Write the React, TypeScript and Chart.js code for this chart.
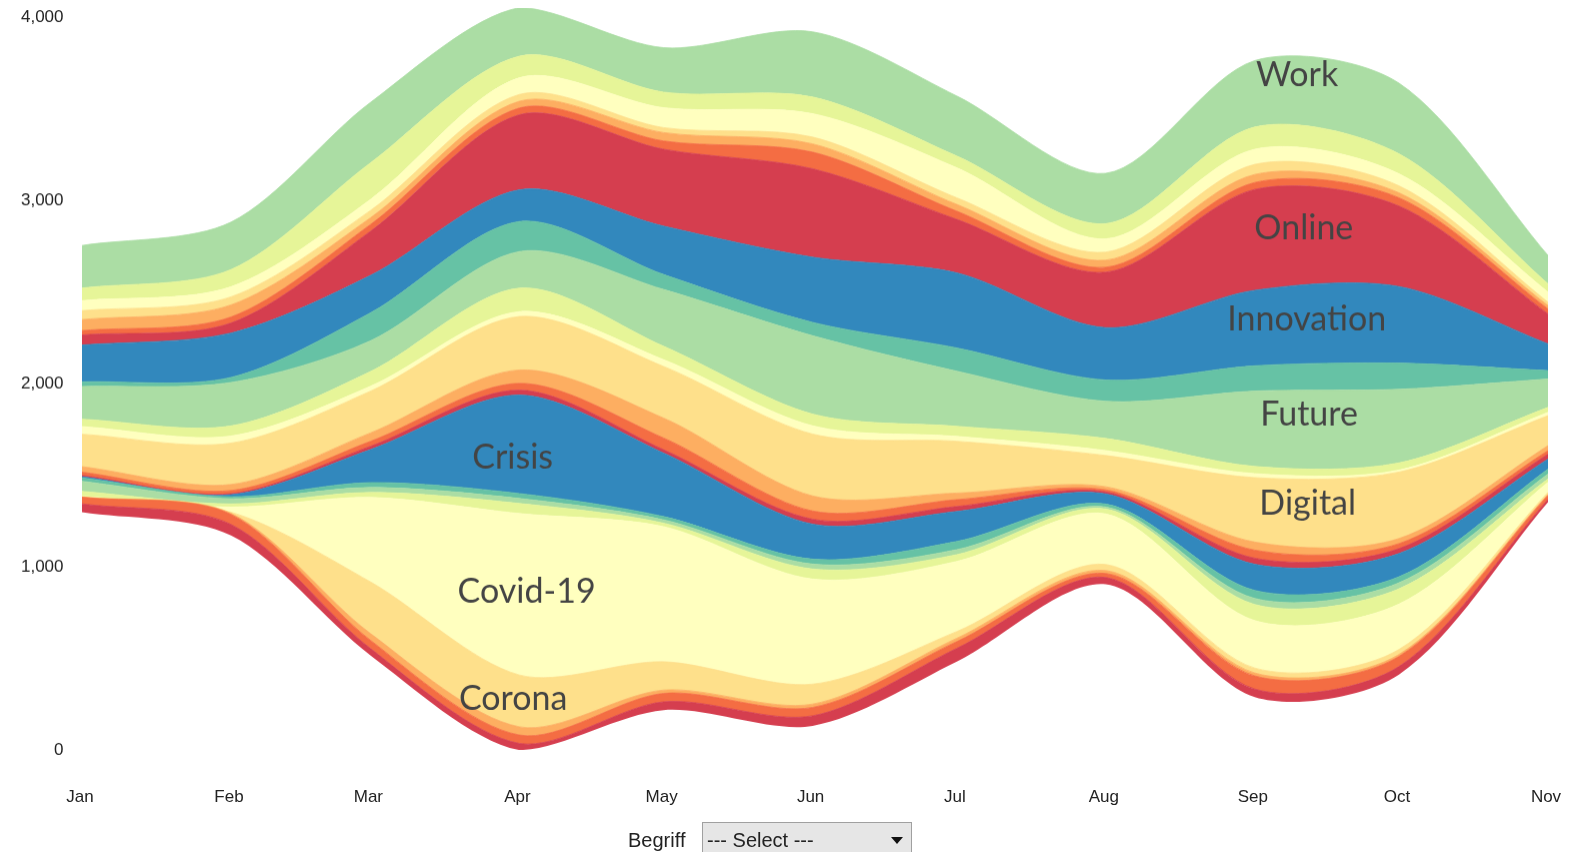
import React, { useEffect, useRef } from 'react';
import { Chart, registerables } from 'chart.js';

Chart.register(...registerables);

// ---- categories / ticks ----
const months = ['Jan', 'Feb', 'Mar', 'Apr', 'May', 'Jun', 'Jul', 'Aug', 'Sep', 'Oct', 'Nov'];
const yTickValues = [0, 1000, 2000, 3000, 4000];
// day offset of each month start (2020) from Jan 1
const monthDays = months.map((_, m) => (Date.UTC(2020, m, 1) - Date.UTC(2020, 0, 1)) / 86400000);

// ---- series (bottom to top), Jan..Nov ----
const term01 = [46, 61, 37, 36, 45, 55, 73, 38, 44, 44, 16];
const term02 = [36, 55, 45, 46, 46, 46, 37, 22, 72, 55, 22];
const term03 = [2, 6, 37, 45, 18, 18, 18, 16, 16, 11, 5];
const corona = [0, 6, 282, 283, 155, 109, 37, 33, 27, 27, 11];
const covid19 = [3, 28, 461, 882, 738, 574, 383, 276, 259, 248, 55];
const term06 = [27, 17, 27, 55, 19, 55, 37, 27, 88, 83, 18];
const term07 = [55, 28, 27, 27, 18, 27, 27, 11, 33, 33, 27];
const term08 = [19, 11, 27, 27, 18, 27, 45, 16, 44, 33, 27];
const crisis = [6, 11, 180, 538, 347, 191, 164, 55, 143, 127, 55];
const term10 = [7, 6, 18, 27, 18, 27, 27, 11, 33, 27, 27];
const term11 = [18, 17, 27, 37, 64, 45, 37, 11, 44, 27, 19];
const term12 = [30, 33, 46, 73, 109, 82, 36, 17, 44, 28, 27];
const digital = [177, 226, 228, 292, 282, 338, 283, 171, 352, 363, 164];
const term14 = [42, 39, 27, 27, 37, 45, 27, 27, 22, 11, 18];
const term15 = [40, 55, 80, 128, 73, 64, 55, 66, 39, 39, 27];
const future = [179, 237, 168, 200, 310, 428, 301, 203, 412, 402, 155];
const term17 = [25, 28, 153, 164, 82, 73, 127, 116, 138, 143, 46];
const innovation = [201, 242, 204, 173, 264, 356, 410, 286, 412, 418, 146];
const online = [55, 55, 241, 410, 420, 483, 292, 303, 551, 440, 164];
const term20 = [24, 33, 37, 37, 45, 91, 45, 27, 38, 45, 27];
const term21 = [60, 66, 37, 37, 46, 45, 37, 39, 44, 27, 19];
const term22 = [49, 44, 40, 37, 27, 37, 36, 44, 55, 38, 18];
const term23 = [55, 55, 60, 91, 109, 128, 164, 72, 83, 66, 55];
const term24 = [68, 94, 200, 118, 85, 91, 64, 83, 121, 109, 45];
const work = [233, 259, 330, 265, 243, 356, 328, 275, 363, 386, 155];

const seriesNames = [
  'Begriff 1', 'Begriff 2', 'Begriff 3', 'Corona', 'Covid-19', 'Begriff 6', 'Begriff 7', 'Begriff 8',
  'Crisis', 'Begriff 10', 'Begriff 11', 'Begriff 12', 'Digital', 'Begriff 14', 'Begriff 15', 'Future',
  'Begriff 17', 'Innovation', 'Online', 'Begriff 20', 'Begriff 21', 'Begriff 22', 'Begriff 23', 'Begriff 24', 'Work',
];
const seriesValues = [
  term01, term02, term03, corona, covid19, term06, term07, term08, crisis, term10, term11, term12, digital,
  term14, term15, future, term17, innovation, online, term20, term21, term22, term23, term24, work,
];
const palette = ['#d53e4f', '#f46d43', '#fdae61', '#fee08b', '#ffffbf', '#e6f598', '#abdda4', '#66c2a5', '#3288bd'];

// ---- stream labels (anchor in data units: day, value) ----
const labelTexts = ['Work', 'Online', 'Innovation', 'Future', 'Digital', 'Crisis', 'Covid-19', 'Corona'];
const labelDays = [252.8, 254.2, 254.8, 255.3, 255.0, 89.6, 92.5, 89.7];
const labelValues = [3686, 2850, 2354, 1832, 1348, 1596, 864, 282];

const tickFamily = "'Liberation Sans', Arial, sans-serif";

const streamLabelPlugin = {
  id: 'streamLabels',
  afterDatasetsDraw(chart: any) {
    const { ctx } = chart;
    const xs = chart.scales.x;
    const ys = chart.scales.y;
    ctx.save();
    ctx.font = "34px Lato, 'Open Sans', sans-serif";
    ctx.fillStyle = '#444444';
    ctx.textAlign = 'center';
    ctx.textBaseline = 'middle';
    labelTexts.forEach((t, i) => {
      ctx.fillText(t, xs.getPixelForValue(labelDays[i]), ys.getPixelForValue(labelValues[i]));
    });
    ctx.restore();
  },
};

// geometry of the canvas box (px)
const Y_PAD = 18.5; // gap between y labels and plot
const TOP_SHIFT = Y_PAD + 0.08; // chart.js reserves this above the plot for the y axis
const X_AXIS_H = 58.5;

export default function App() {
  const canvasRef = useRef<HTMLCanvasElement>(null);

  useEffect(() => {
    if (!canvasRef.current) return;
    const totals = months.map((_, i) => seriesValues.reduce((s, arr) => s + arr[i], 0));
    const maxTotal = Math.max(...totals);
    const baseline = totals.map((t) => (maxTotal - t) / 2);

    const common = { pointRadius: 0, pointHoverRadius: 0, cubicInterpolationMode: 'default' as const, tension: 0.3 };
    const datasets: any[] = [
      {
        label: 'baseline',
        data: monthDays.map((d, i) => ({ x: d, y: baseline[i] })),
        fill: false,
        borderWidth: 0,
        borderColor: 'rgba(0,0,0,0)',
        backgroundColor: 'rgba(0,0,0,0)',
        ...common,
      },
      ...seriesValues.map((vals, k) => {
        const c = palette[k % palette.length];
        return {
          label: seriesNames[k],
          data: monthDays.map((d, i) => ({ x: d, y: vals[i] })),
          fill: '-1',
          backgroundColor: c,
          borderColor: c,
          borderWidth: 0.8,
          ...common,
        };
      }),
    ];

    const chart = new Chart(canvasRef.current, {
      type: 'line',
      data: { datasets },
      plugins: [streamLabelPlugin],
      options: {
        animation: false,
        responsive: true,
        maintainAspectRatio: false,
        layout: { padding: { left: 0, right: 22, top: 0, bottom: 0 } },
        plugins: { legend: { display: false }, tooltip: { enabled: false } },
        events: [],
        scales: {
          x: {
            type: 'linear',
            min: monthDays[0],
            max: monthDays[monthDays.length - 1],
            grid: { display: false, drawTicks: false, tickLength: 0 },
            border: { display: false },
            afterBuildTicks: (s: any) => {
              s.ticks = monthDays.map((v) => ({ value: v }));
            },
            afterFit: (s: any) => {
              s.height = X_AXIS_H;
            },
            ticks: {
              autoSkip: false,
              maxRotation: 0,
              minRotation: 0,
              padding: 0,
              labelOffset: -2,
              color: '#222222',
              font: { family: tickFamily, size: 17, lineHeight: '94px' },
              callback: (_v: any, i: number) => months[i],
            },
          },
          y: {
            type: 'linear',
            stacked: true,
            min: 0,
            max: maxTotal,
            grid: { display: false, drawTicks: false, tickLength: 0 },
            border: { display: false },
            afterBuildTicks: (s: any) => {
              s.ticks = yTickValues.map((v) => ({ value: v }));
            },
            afterFit: (s: any) => {
              s.width = 74;
            },
            ticks: {
              padding: Y_PAD,
              color: '#222222',
              font: { family: tickFamily, size: 17, lineHeight: 0.01 },
              callback: (v: any) => Number(v).toLocaleString('en-US'),
            },
          },
        },
      },
    });
    return () => chart.destroy();
  }, []);

  return (
    <div style={{ position: 'fixed', left: 8, top: 8, width: 1562, height: 844, overflow: 'hidden' }}>
      <div
        style={{
          position: 'absolute',
          left: 0,
          top: -TOP_SHIFT,
          width: 1562,
          height: 741.5 + TOP_SHIFT + X_AXIS_H,
        }}
      >
        <canvas ref={canvasRef} />
      </div>
      <span
        style={{
          position: 'absolute',
          left: 620,
          top: 822,
          fontFamily: tickFamily,
          fontSize: 20,
          lineHeight: '20px',
          color: '#222',
          whiteSpace: 'nowrap',
        }}
      >
        Begriff
      </span>
      <select
        defaultValue=""
        style={{
          position: 'absolute',
          left: 694,
          top: 814,
          width: 210,
          height: 36,
          boxSizing: 'border-box',
          appearance: 'none',
          WebkitAppearance: 'none',
          background: '#e6e6e6',
          border: '1px solid #a0a0a0',
          borderRadius: 0,
          paddingLeft: 4,
          margin: 0,
          fontFamily: tickFamily,
          fontSize: 20,
          color: '#222',
        }}
      >
        <option value="">--- Select ---</option>
      </select>
      <div
        style={{
          position: 'absolute',
          left: 883,
          top: 829,
          width: 0,
          height: 0,
          borderLeft: '6px solid transparent',
          borderRight: '6px solid transparent',
          borderTop: '7px solid #111',
          pointerEvents: 'none',
        }}
      />
    </div>
  );
}
